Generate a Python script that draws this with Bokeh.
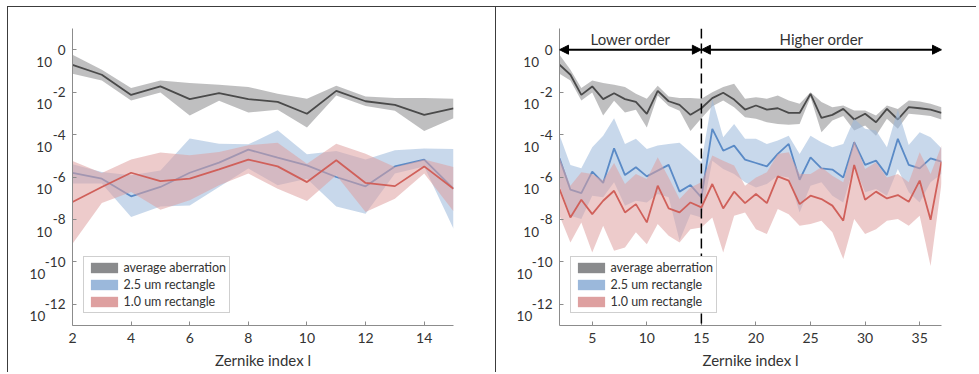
import numpy as np
from bokeh.plotting import figure
from bokeh.models import (Legend, LegendItem, Span, Arrow, NormalHead, Label,
                          FixedTicker, Range1d, CustomJSTickFormatter)
from bokeh.layouts import row
from bokeh.embed import file_html
from bokeh.resources import INLINE

# ---------------- data (log10 of the plotted values) ----------------
x_left = list(range(2, 16))
x_right = list(range(2, 38))

# average aberration (same in both panels, index 2..37)
gray_mean = [-0.71, -1.18, -2.13, -1.73, -2.33, -2.05, -2.33, -2.46, -3.02, -1.94, -2.43, -2.60, -3.07, -2.76,
             -2.28, -2.03, -2.35, -2.82, -2.63, -2.82, -2.76, -2.98, -2.98, -2.08, -3.21, -3.07, -2.79, -3.29,
             -3.02, -3.42, -2.79, -3.29, -2.71, -2.76, -2.82, -2.98]
gray_upper = [-0.24, -0.94, -1.81, -1.45, -1.57, -1.65, -1.76, -2.08, -2.31, -1.70, -2.20, -2.28, -2.28, -2.31,
              -2.00, -1.76, -1.61, -2.31, -2.24, -2.31, -2.16, -2.39, -2.55, -2.00, -2.47, -2.71, -2.63, -2.87,
              -2.87, -3.10, -2.63, -2.79, -2.39, -2.44, -2.55, -2.71]
gray_lower = [-1.13, -1.45, -2.39, -2.02, -3.10, -2.41, -2.96, -2.83, -3.67, -2.16, -2.65, -2.88, -3.83, -3.23,
              -2.66, -2.39, -2.71, -3.18, -3.26, -3.42, -3.50, -3.54, -3.50, -2.24, -3.89, -3.34, -3.13, -3.81,
              -3.57, -4.05, -3.26, -3.73, -3.02, -3.07, -3.13, -3.29]

# left panel
blue_mean_l = [-5.81, -6.08, -6.91, -6.47, -5.80, -5.32, -4.71, -5.09, -5.45, -6.00, -6.44, -5.50, -5.18, -6.55]
blue_upper_l = [-5.40, -5.76, -5.92, -5.69, -4.19, -4.43, -4.46, -3.80, -4.93, -4.77, -5.18, -4.74, -4.66, -4.68]
blue_lower_l = [-6.31, -6.31, -7.89, -7.39, -7.34, -6.47, -5.60, -6.39, -6.08, -7.39, -7.73, -5.84, -5.50, -8.44]
red_mean_l = [-7.18, -6.47, -5.80, -6.19, -6.08, -5.64, -5.18, -5.50, -6.24, -5.21, -6.28, -6.43, -5.50, -6.55]
red_upper_l = [-5.24, -5.81, -5.18, -4.85, -4.98, -4.82, -4.50, -4.39, -5.37, -4.43, -4.90, -5.53, -5.18, -5.53]
red_lower_l = [-9.15, -7.23, -6.71, -7.54, -7.10, -6.39, -5.84, -6.55, -7.13, -5.92, -7.65, -7.02, -5.84, -7.61]

# right panel
blue_mean_r = [-5.12, -6.60, -6.76, -5.75, -6.28, -4.65, -5.91, -5.54, -5.97, -5.70, -5.43, -6.69, -6.38, -6.96,
               -3.73, -4.76, -4.52, -5.18, -5.34, -5.50, -4.91, -4.44, -6.13, -5.07, -5.59, -5.65, -6.02, -4.36,
               -5.43, -5.23, -5.91, -4.20, -5.43, -5.59, -5.12, -5.28]
blue_upper_r = [-4.02, -5.43, -5.59, -4.60, -4.05, -3.23, -4.44, -4.20, -4.68, -4.52, -4.44, -4.39, -4.83, -5.31,
                -2.31, -4.13, -3.50, -4.20, -4.20, -4.44, -4.28, -4.05, -4.91, -4.05, -4.36, -4.60, -4.44, -3.26,
                -3.73, -3.81, -4.60, -2.82, -4.49, -3.89, -4.13, -4.65]
blue_lower_r = [-6.41, -7.83, -7.98, -6.88, -6.96, -6.25, -7.35, -7.12, -7.20, -6.80, -6.96, -9.01, -7.75, -7.91,
                -5.23, -5.62, -5.86, -6.25, -6.49, -6.33, -5.94, -6.02, -7.67, -6.41, -6.25, -6.88, -7.20, -5.46,
                -6.72, -6.57, -6.88, -5.62, -6.72, -7.20, -6.25, -5.86]
red_mean_r = [-6.57, -7.91, -7.07, -7.75, -7.12, -6.65, -7.67, -7.28, -8.14, -6.41, -7.48, -7.67, -7.20, -7.43,
              -6.33, -7.48, -6.69, -7.23, -6.80, -7.23, -5.97, -6.17, -7.28, -6.88, -7.04, -7.35, -8.06, -5.43,
              -7.07, -6.69, -7.01, -6.85, -7.17, -6.17, -8.02, -5.28]
red_upper_r = [-5.07, -6.41, -5.78, -5.86, -6.17, -5.34, -6.33, -5.86, -6.09, -5.07, -6.02, -7.04, -6.49, -6.25,
               -4.99, -5.23, -5.46, -6.41, -6.02, -5.78, -4.91, -4.83, -5.86, -5.86, -5.54, -5.94, -6.25, -4.28,
               -5.62, -5.31, -6.02, -5.86, -6.25, -4.83, -5.86, -4.52]
red_lower_r = [-7.83, -9.09, -8.14, -9.56, -8.30, -9.48, -9.32, -8.61, -9.17, -8.22, -8.77, -9.09, -8.46, -8.38,
               -7.91, -9.56, -7.83, -7.67, -8.46, -8.69, -7.51, -7.75, -8.30, -8.22, -8.06, -8.61, -9.87, -7.98,
               -8.69, -8.46, -8.06, -7.98, -8.30, -7.83, -10.20, -6.30]

y_tick_exponents = [0, -2, -4, -6, -8, -10, -12]
x_ticks_left = [2, 4, 6, 8, 10, 12, 14]
x_ticks_right = [5, 10, 15, 20, 25, 30, 35]
legend_labels = ["average aberration", "2.5 um rectangle", "1.0 um rectangle"]
order_labels = ["Lower order", "Higher order"]
x_title = "Zernike index l"

# ---------------- style ----------------
FONT = "Lato"
TEXT = "#333333"
AXIS = "#8c8c8c"
EDGE = "1.5px solid #3c3c3c"
SW = ["#8a8b8d", "#9bb8db", "#dea0a0"]      # legend swatch colours
LINE = ["#4a4a4a", "#5a8ac6", "#d0605a"]    # mean line colours
BAND_ALPHA = 0.55

# MATLAB-like "10" with a raised exponent: three right-aligned lines
# (blank / exponent / "10" padded with en spaces so it sits left of the exponent)
EXP_FMT = CustomJSTickFormatter(code="""
const e = Math.round(Math.log10(tick));
const s = e.toString();
const pad = s.length >= 3 ? "\\u2002\\u2002\\u2002" : "\\u2002\\u2002";
return "\\u00a0\\n" + s + "\\n10" + pad;
""")


def p10(v):
    return (10.0 ** np.asarray(v, dtype=float)).tolist()


def make_panel(xs, xmax, xticks, series, width, mbl, mbr, styles):
    p = figure(width=width, height=366, y_axis_type="log",
               x_range=Range1d(2, xmax), y_range=Range1d(1e-13, 1e1),
               output_backend="svg", toolbar_location=None,
               min_border_left=mbl, min_border_right=mbr,
               min_border_top=21, min_border_bottom=48)
    p.styles = styles
    p.outline_line_color = None
    p.grid.visible = False
    p.background_fill_color = "white"
    p.border_fill_color = "white"

    swatches = []
    for (mean, up, lo), sw, lc in zip(series, SW, LINE):
        p.varea(x=xs, y1=p10(lo), y2=p10(up), fill_color=sw, fill_alpha=BAND_ALPHA)
        p.line(x=xs, y=p10(mean), line_color=lc, line_width=1.8)
    for sw in SW:
        swatches.append(p.varea(x=[2], y1=[1e-20], y2=[1e-20], fill_color=sw, fill_alpha=1.0))

    # axes
    for ax in (p.xaxis[0], p.yaxis[0]):
        ax.axis_line_color = AXIS
        ax.axis_line_width = 1
        ax.major_tick_line_color = AXIS
        ax.major_tick_in = 4
        ax.major_tick_out = 0
        ax.minor_tick_line_color = None
    p.xaxis.ticker = FixedTicker(ticks=xticks)
    p.xaxis.major_label_text_font = FONT
    p.xaxis.major_label_text_font_size = "14px"
    p.xaxis.major_label_text_color = TEXT
    p.xaxis.major_label_standoff = 7
    p.xaxis.axis_label = x_title
    p.xaxis.axis_label_text_font = FONT
    p.xaxis.axis_label_text_font_size = "15px"
    p.xaxis.axis_label_text_font_style = "normal"
    p.xaxis.axis_label_text_color = TEXT
    p.xaxis.axis_label_standoff = 5

    p.yaxis.ticker = FixedTicker(ticks=[10.0 ** e for e in y_tick_exponents], minor_ticks=[])
    p.yaxis.formatter = EXP_FMT
    p.yaxis.major_label_text_font = FONT
    p.yaxis.major_label_text_font_size = "13.5px"
    p.yaxis.major_label_text_color = TEXT
    p.yaxis.major_label_text_line_height = 0.76
    p.yaxis.major_label_standoff = 7

    legend = Legend(items=[LegendItem(label=l, renderers=[r]) for l, r in zip(legend_labels, swatches)],
                    location=(11, 12), glyph_width=34, glyph_height=13, label_height=13,
                    spacing=2, padding=3, margin=0, label_standoff=3,
                    border_line_color="#a0a0a0", border_line_width=1,
                    background_fill_color="white", background_fill_alpha=1.0,
                    label_text_font=FONT, label_text_font_size="12.5px", label_text_color=TEXT)
    p.add_layout(legend)
    return p


left_series = [(gray_mean[:14], gray_upper[:14], gray_lower[:14]),
               (blue_mean_l, blue_upper_l, blue_lower_l),
               (red_mean_l, red_upper_l, red_lower_l)]
right_series = [(gray_mean, gray_upper, gray_lower),
                (blue_mean_r, blue_upper_r, blue_lower_r),
                (red_mean_r, red_upper_r, red_lower_r)]

p1 = make_panel(x_left, 15, x_ticks_left, left_series, 489, 64, 44,
                {"border-left": EDGE, "border-top": EDGE, "border-right": EDGE})
p2 = make_panel(x_right, 37, x_ticks_right, right_series, 480, 63, 35,
                {"border-top": EDGE})

# dashed separator and order arrows on the right panel
p2.add_layout(Span(location=15, dimension="height", line_color="black",
                   line_width=1.5, line_dash="10 5", level="overlay"))
for (xa, xb), txt in zip([(2, 15), (15, 37)], order_labels):
    p2.add_layout(Arrow(x_start=xa, y_start=1.0, x_end=xb, y_end=1.0,
                        line_color="black", line_width=2,
                        start=NormalHead(size=9, fill_color="black", line_color="black"),
                        end=NormalHead(size=9, fill_color="black", line_color="black")))
    p2.add_layout(Label(x=(xa + xb) / 2, y=1.0, y_offset=11, text=txt,
                        text_align="center", text_baseline="middle",
                        text_font=FONT, text_font_size="15px", text_color=TEXT))

layout = row(p1, p2, styles={"margin-left": "6.5px", "margin-top": "6px"})
open("out.html", "w").write(file_html(layout, INLINE))
